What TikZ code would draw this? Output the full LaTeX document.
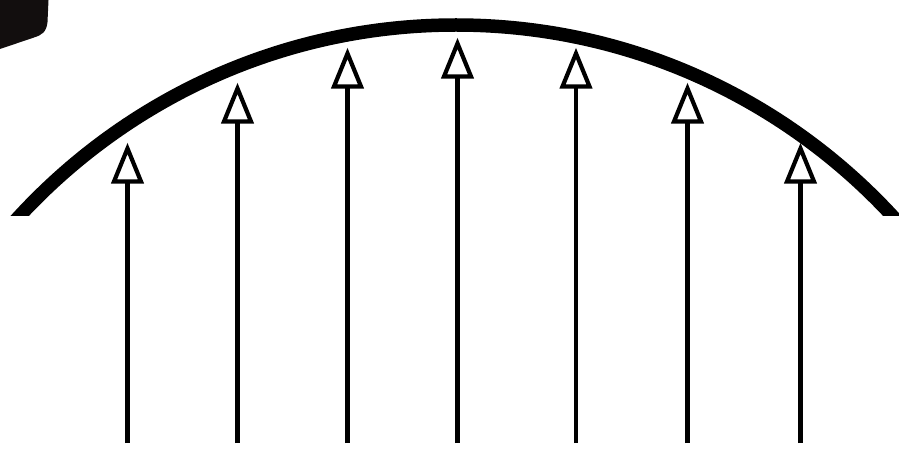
\documentclass[tikz,border=0pt]{standalone}
\definecolor{blob}{RGB}{18,14,14}
\tikzset{
  shaft/.style={line width=4.4pt},
  headtri/.style={line width=4.2pt, line join=miter, miter limit=10, fill=white},
  dome/.style={line width=13.5pt},
}
\begin{document}
\begin{tikzpicture}[x=1pt,y=-1pt]
\useasboundingbox (0,0) rectangle (899,449);
% dark shape in the corner
\fill[blob] (0,0) -- (48.5,0) -- (47.5,22) .. controls (46.5,32) and (42,35) .. (34,37.5) -- (0,49) -- cycle;
% dome
\begin{scope}
  \clip (0,0) rectangle (899,215);
  \draw[dome] (456,619) circle[radius=594];
\end{scope}
% rays with open triangular heads
\foreach \i/\x/\t in {1/127.5/148.5, 2/237.5/88.5, 3/347.5/53.5, 4/457.5/43.5, 5/576/53.5, 6/687.5/88.5, 7/800.5/148.5}{
  \coordinate (b\i) at (\x,443);
  \coordinate (t\i) at (\x,\t);
  \coordinate (h\i) at (\x,\t+33);
  \draw[shaft] (b\i) -- (h\i);
  \draw[headtri] (t\i) -- ([xshift=13.5pt]h\i) -- ([xshift=-13.5pt]h\i) -- cycle;
}
\end{tikzpicture}
\end{document}
